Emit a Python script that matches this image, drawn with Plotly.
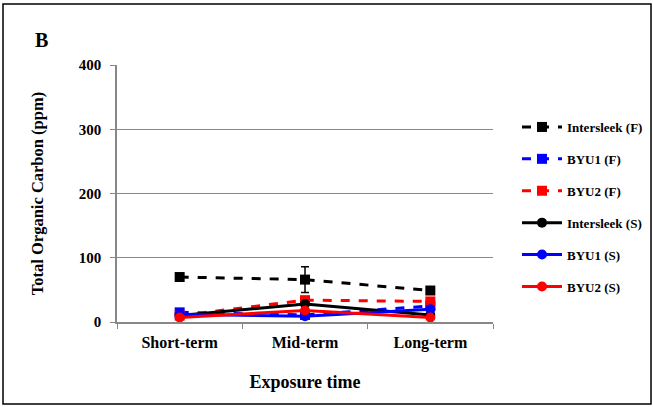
import plotly.graph_objects as go

categories = ["Short-term", "Mid-term", "Long-term"]
intersleek_f = [70, 66, 49]
byu1_f = [15, 11, 25]
byu2_f = [10, 34, 32]
intersleek_s = [10, 28, 11]
byu1_s = [12, 9, 20]
byu2_s = [7, 18, 7]
intersleek_f_err = [0, 20, 0]

FONT = "Liberation Serif"

series = [
    ("Intersleek (F)", intersleek_f, "black", "dash", "square", intersleek_f_err),
    ("BYU1 (F)", byu1_f, "blue", "dash", "square", None),
    ("BYU2 (F)", byu2_f, "red", "dash", "square", None),
    ("Intersleek (S)", intersleek_s, "black", "solid", "circle", None),
    ("BYU1 (S)", byu1_s, "blue", "solid", "circle", None),
    ("BYU2 (S)", byu2_s, "red", "solid", "circle", None),
]

fig = go.Figure()
for i, (name, vals, color, dash, sym, err) in enumerate(series):
    fig.add_trace(go.Scatter(
        x=categories, y=vals, name=name, mode="lines+markers",
        line=dict(color=color, dash=dash, width=3),
        marker=dict(symbol=sym, size=10, color=color),
        legendgroup=f"g{i}",
        error_y=dict(type="data", array=err, color=color, thickness=1.5, width=4) if err else None,
    ))

fig.update_layout(
    width=653, height=407, autosize=False,
    margin=dict(l=117, r=160, t=65, b=85),
    paper_bgcolor="white", plot_bgcolor="white",
    font=dict(family=FONT, color="black"),
    showlegend=True,
    legend=dict(xref="container", yref="container", x=517 / 653, y=1 - 112 / 407,
                xanchor="left", yanchor="top",
                font=dict(family=FONT, size=13, color="black", weight="bold"),
                tracegroupgap=12, itemwidth=40, bgcolor="rgba(0,0,0,0)"),
    xaxis=dict(
        range=[-0.5, 2.5],
        showline=True, linecolor="#888888", linewidth=1.5,
        ticks="outside", tickson="boundaries", ticklen=5, tickcolor="#888888",
        ticklabelstandoff=5,
        tickfont=dict(family=FONT, size=16, color="black", weight="bold"),
        title=dict(text="Exposure time", font=dict(family=FONT, size=18, weight="bold"), standoff=24),
        showgrid=False, zeroline=False,
    ),
    yaxis=dict(
        range=[0, 400], dtick=100,
        showline=True, linecolor="#888888", linewidth=1.5,
        ticks="outside", ticklen=5, tickcolor="#888888",
        ticklabelstandoff=6,
        showgrid=True, gridcolor="#888888", gridwidth=1.2,
        zeroline=False,
        tickfont=dict(family=FONT, size=15, color="black", weight="bold"),
        title=dict(text="Total Organic Carbon (ppm)", font=dict(family=FONT, size=16.5, weight="bold"), standoff=31),
    ),
    annotations=[dict(text="B", xref="paper", yref="paper", x=(41 - 117) / 376, y=(322 - 40) / 257,
                      xanchor="center", yanchor="middle", showarrow=False,
                      font=dict(family=FONT, size=20, weight="bold", color="black"))],
    shapes=[dict(type="rect", xref="paper", yref="paper",
                 x0=(3 - 117) / 376, x1=(651 - 117) / 376,
                 y0=(322 - 404) / 257, y1=(322 - 4) / 257,
                 line=dict(color="black", width=1.5), layer="below")],
)

fig.write_html("out.html", config={"displayModeBar": False, "responsive": False},
               post_script="document.documentElement.style.overflow='hidden';"
                           "document.body.style.overflow='hidden';"
                           "document.body.style.margin='0';")
